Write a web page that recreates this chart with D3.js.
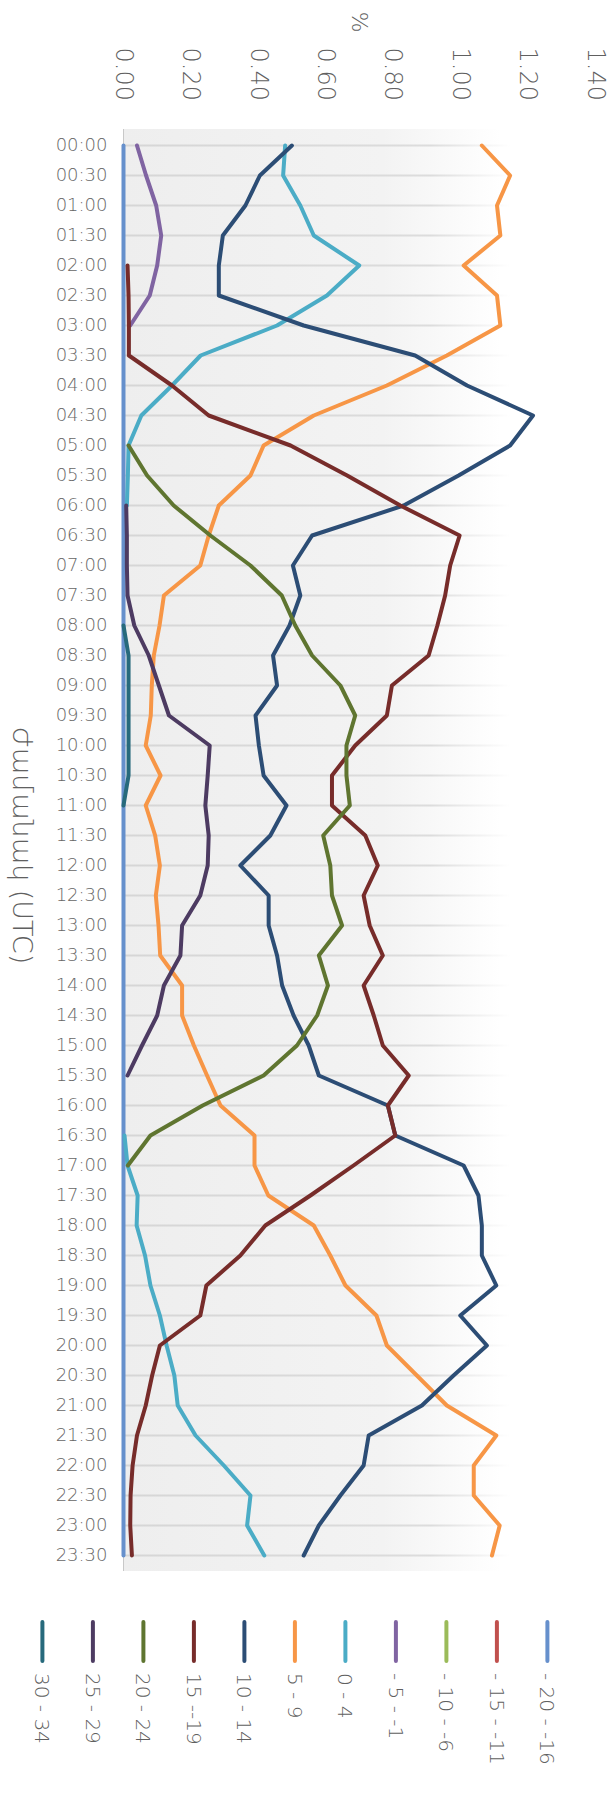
<!DOCTYPE html>
<html><head><meta charset="utf-8">
<script src="https://cdn.jsdelivr.net/npm/d3@7"></script>
<style>body{margin:0;background:#fff} svg{display:block}</style>
</head><body>
<svg id="chart" width="613" height="1796"></svg>
<script>
// ---------- data ----------
const times = ["00:00","00:30","01:00","01:30","02:00","02:30","03:00","03:30","04:00","04:30",
  "05:00","05:30","06:00","06:30","07:00","07:30","08:00","08:30","09:00","09:30",
  "10:00","10:30","11:00","11:30","12:00","12:30","13:00","13:30","14:00","14:30",
  "15:00","15:30","16:00","16:30","17:00","17:30","18:00","18:30","19:00","19:30",
  "20:00","20:30","21:00","21:30","22:00","22:30","23:00","23:30"];
const valueTicks = [0, 0.2, 0.4, 0.6, 0.8, 1.0, 1.2, 1.4];
const seriesNames = ["- 20 - -16","- 15 - -11","- 10 - -6","- 5 - -1","0 - 4","5 - 9","10 - 14","15 --19","20 - 24","25 - 29","30 - 34"];
const _ = null;
const sM20 = [0,0,0,0,0,0,0,0,0,0, 0,0,0,0,0,0,0,0,0,0, 0,0,0,0,0,0,0,0,0,0, 0,0,0,0,0,0,0,0,0,0, 0,0,0,0,0,0,0,0];
const sM15 = [_,_,_,_,_,_,_,_,_,_, _,_,_,_,_,_,_,_,_,_, _,_,_,_,_,_,_,_,_,_, _,_,_,_,_,_,_,_,_,_, _,_,_,_,_,_,_,_];
const sM10 = [_,_,_,_,_,_,_,_,_,_, _,_,_,_,_,_,_,_,_,_, _,_,_,_,_,_,_,_,_,_, _,_,_,_,_,_,_,_,_,_, _,_,_,_,_,_,_,_];
const sM5  = [0.04,0.067,0.097,0.112,0.10,0.078,0.02,_,_,_, _,_,_,_,_,_,_,_,_,_, _,_,_,_,_,_,_,_,_,_, _,_,_,_,_,_,_,_,_,_, _,_,_,_,_,_,_,_];
const s0   = [0.48,0.474,0.525,0.565,0.70,0.604,0.456,0.229,0.144,0.053, 0.015,0.013,0.01,_,_,_,_,_,_,_, _,_,_,_,_,_,_,_,_,_, _,_,_,0.003,0.012,0.042,0.039,0.064,0.08,0.108, 0.128,0.151,0.161,0.214,0.298,0.377,0.367,0.418];
const s5   = [1.064,1.148,1.109,1.119,1.01,1.109,1.119,0.96,0.782,0.565, 0.416,0.377,0.283,0.253,0.228,0.12,0.107,0.09,0.084,0.081, 0.066,0.11,0.066,0.094,0.108,0.096,0.104,0.109,0.174,0.174, 0.209,0.248,0.288,0.389,0.389,0.43,0.565,0.614,0.659,0.751, 0.782,0.871,0.96,1.107,1.04,1.04,1.117,1.094];
const s10  = [0.50,0.405,0.362,0.295,0.283,0.283,0.535,0.866,1.02,1.216, 1.148,0.995,0.832,0.56,0.503,0.525,0.493,0.444,0.456,0.392, 0.402,0.416,0.484,0.436,0.347,0.431,0.431,0.456,0.471,0.505, 0.55,0.58,0.785,0.807,1.01,1.054,1.064,1.064,1.107,1.0, 1.079,0.98,0.886,0.728,0.713,0.644,0.58,0.535];
const s15  = [_,_,_,_,0.012,0.015,0.016,0.016,0.144,0.253, 0.496,0.664,0.822,0.998,0.97,0.955,0.932,0.906,0.797,0.782, 0.688,0.619,0.619,0.718,0.755,0.713,0.731,0.77,0.713,0.743, 0.77,0.847,0.785,0.807,0.683,0.555,0.421,0.347,0.246,0.228, 0.108,0.085,0.066,0.04,0.027,0.021,0.02,0.025];
const s20  = [_,_,_,_,_,_,_,_,_,_, 0.015,0.07,0.149,0.258,0.377,0.47,0.51,0.56,0.644,0.688, 0.662,0.662,0.672,0.593,0.614,0.619,0.649,0.58,0.607,0.575, 0.515,0.416,0.235,0.08,0.013,_,_,_,_,_, _,_,_,_,_,_,_,_];
const s25  = [_,_,_,_,_,_,_,_,_,_, _,_,0.008,0.01,0.01,0.012,0.032,0.075,0.105,0.135, 0.256,0.25,0.243,0.253,0.25,0.228,0.174,0.169,0.12,0.1, 0.055,0.012,_,_,_,_,_,_,_,_, _,_,_,_,_,_,_,_];
const s30  = [_,_,_,_,_,_,_,_,_,_, _,_,_,_,_,_,0.0,0.015,0.015,0.015, 0.015,0.015,0.0,_,_,_,_,_,_,_, _,_,_,_,_,_,_,_,_,_, _,_,_,_,_,_,_,_];
const seriesValues = [sM20, sM15, sM10, sM5, s0, s5, s10, s15, s20, s25, s30];
const colors = ["#6690cc","#c0504d","#9bbb59","#8064a2","#4bacc6","#f79646","#2c4d75","#772c2a","#5f7530","#4d3b62","#276a7c"];

// ---------- chart ----------
const svg = d3.select("#chart");
const FONT = "'DejaVu Sans', sans-serif";
const x = d3.scaleLinear().domain([0, 1.4]).range([123.5, 595]);
const y = d3.scaleBand().domain(times).range([130.5, 1570.5]);
const bw = y.bandwidth();
const yc = t => y(t) + bw / 2;

const defs = svg.append("defs");
const bgGrad = defs.append("linearGradient").attr("id", "bgGrad")
  .attr("gradientUnits", "userSpaceOnUse").attr("x1", x(0)).attr("x2", x(1.4)).attr("y1", 0).attr("y2", 0);
bgGrad.append("stop").attr("offset", "0%").attr("stop-color", "#eeeeee");
bgGrad.append("stop").attr("offset", "55%").attr("stop-color", "#f3f3f3");
bgGrad.append("stop").attr("offset", "80%").attr("stop-color", "#ffffff");
const gridGrad = defs.append("linearGradient").attr("id", "gridGrad")
  .attr("gradientUnits", "userSpaceOnUse").attr("x1", x(0)).attr("x2", x(1.4)).attr("y1", 0).attr("y2", 0);
gridGrad.append("stop").attr("offset", "0%").attr("stop-color", "#d6d6d6");
gridGrad.append("stop").attr("offset", "65%").attr("stop-color", "#dcdcdc");
gridGrad.append("stop").attr("offset", "82%").attr("stop-color", "#ffffff");

svg.append("rect").attr("x", x(0)).attr("y", 129).attr("width", x(1.4) - x(0)).attr("height", 1571 - 129)
  .attr("fill", "url(#bgGrad)");

svg.append("g").selectAll("line").data(times).join("line")
  .attr("x1", x(0)).attr("x2", x(1.4)).attr("y1", yc).attr("y2", yc)
  .attr("stroke", "url(#gridGrad)").attr("stroke-width", 2);

// axis line
svg.append("line").attr("x1", x(0)).attr("x2", x(0)).attr("y1", 129).attr("y2", 1571)
  .attr("stroke", "#c8c8c8").attr("stroke-width", 1);

// time axis (left)
const yAxis = svg.append("g").attr("transform", `translate(${x(0)},0)`)
  .call(d3.axisLeft(y).tickSize(0).tickPadding(16));
yAxis.select(".domain").remove();
yAxis.selectAll("text").attr("font-family", FONT).attr("font-size", 18).attr("font-weight", 200).attr("fill", "#666666");

// value axis (top), labels rotated
const xAxis = svg.append("g").attr("transform", "translate(0,101)")
  .call(d3.axisTop(x).tickValues(valueTicks).tickFormat(d3.format(".2f")).tickSize(0));
xAxis.select(".domain").remove();
xAxis.selectAll("text").attr("x", 0).attr("y", 0).attr("dy", null)
  .attr("transform", "rotate(90)").attr("text-anchor", "end").attr("dominant-baseline", "central")
  .attr("font-family", FONT).attr("font-size", 24).attr("font-weight", 200).attr("fill", "#606060");

// lines
const line = d3.line().defined(d => d != null).x(d => x(d)).y((d, i) => yc(times[i]));
svg.append("g").selectAll("path").data(seriesValues).join("path")
  .attr("d", d => line(d)).attr("fill", "none")
  .attr("stroke", (d, i) => colors[i]).attr("stroke-width", 4)
  .attr("stroke-linejoin", "round").attr("stroke-linecap", "round");

// titles
svg.append("text").attr("transform", `translate(${(x(0) + x(1.4)) / 2},22) rotate(90)`)
  .attr("text-anchor", "middle").attr("dominant-baseline", "central")
  .attr("font-family", FONT).attr("font-size", 22).attr("font-weight", 200).attr("fill", "#606060").text("%");
svg.append("text").attr("transform", `translate(22,${(130.5 + 1570.5) / 2 - 5}) rotate(90)`)
  .attr("text-anchor", "middle").attr("dominant-baseline", "central")
  .attr("font-family", FONT).attr("font-size", 27).attr("font-weight", 200).attr("fill", "#606060").text("Ժամանակ (UTC)");

// legend
const legX = i => 42.4 + 50.5 * (seriesNames.length - 1 - i);
const leg = svg.append("g").selectAll("g").data(seriesNames).join("g")
  .attr("transform", (d, i) => `translate(${legX(i)},0)`);
leg.append("line").attr("x1", 0).attr("x2", 0).attr("y1", 1622).attr("y2", 1661)
  .attr("stroke", (d, i) => colors[i]).attr("stroke-width", 4).attr("stroke-linecap", "round");
leg.append("text").attr("transform", "translate(0,1673) rotate(90)")
  .attr("text-anchor", "start").attr("dominant-baseline", "central")
  .attr("font-family", FONT).attr("font-size", 20).attr("font-weight", 200).attr("fill", "#606060").text(d => d);
</script>
</body></html>
